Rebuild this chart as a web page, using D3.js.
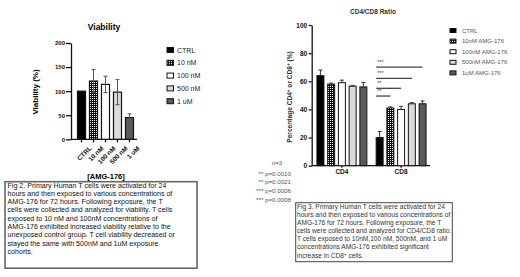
<!DOCTYPE html>
<html lang="en">
  <head>
    <meta charset="UTF-8" />
    <title>AMG-176 T cell figures</title>
    <script src="https://cdn.jsdelivr.net/npm/d3@7"></script>
    <style>
      body { margin: 0; background: #fff; }
      svg { display: block; font-family: "Liberation Sans", Arial, sans-serif; }
      .axis path, .axis line { stroke: #111; stroke-width: 1.3px; }
      .axis text { font-weight: bold; fill: #111; }
    </style>
  </head>
  <body>
    <div id="chart"></div>
    <script>
    // ---- Fig 2: viability ----
    var conditions = ["CTRL", "10 nM", "100 nM", "500 nM", "1 uM"];
    var viabilityMean = [100, 121, 114, 98, 45];
    var viabilityErr = [0, 24, 17, 26, 8];
    var viabilityTicks = [0, 50, 100, 150, 200];

    // ---- Fig 3: CD4/CD8 ratio ----
    var groups = ["CD4", "CD8"];
    var ratioLabels = ["CTRL", "10nM AMG-176", "100nM AMG-176", "500nM AMG-176", "1uM AMG-176"];
    var cd4Mean = [64, 58, 59, 56.5, 56];
    var cd4Err = [4, 0.7, 1.8, 0.6, 3.2];
    var cd8Mean = [20, 41, 40, 44, 44];
    var cd8Err = [4.3, 0.8, 2.2, 0.8, 2];
    var ratioTicks = [0, 20, 40, 60, 80, 100];

    // significance brackets (CD8 group, CTRL vs target)
    var sigTarget = [4, 3, 2, 1];
    var sigLevel = [70, 62, 55, 49.5];
    var sigStars = ["***", "***", "**", "**"];
    var pNotes = ["n=3", "** p=0.0010", "** p=0.0021", "*** p=0.0006", "*** p=0.0008"];

    var caption2 = [
      "Fig 2. Primary Human T cells were activated for 24",
      "hours and then exposed to various concentrations of",
      "AMG-176 for 72 hours. Following exposure, the T",
      "cells were collected and analyzed for viability. T cells",
      "exposed to 10 nM and 100nM concentrations of",
      "AMG-176 exhibited increased viability relative to the",
      "unexposed control group. T cell viability decreased or",
      "stayed the same with 500nM and 1uM exposure",
      "cohorts."
    ];
    var caption3 = [
      "Fig 3. Primary Human T cells were activated for 24",
      "hours and then exposed to various concentrations of",
      "AMG-176 for 72 hours. Following exposure, the T",
      "cells were collected and analyzed for CD4/CD8 ratio.",
      "T cells exposed to 10nM,100 nM, 500nM, and 1 uM",
      "concentrations AMG-176 exhibited significant",
      "increase in CD8+ cells."
    ];

    var w = 520, h = 277;
    var svg = d3.select("#chart").append("svg")
      .attr("width", w)
      .attr("height", h);

    svg.append("rect").attr("width", w).attr("height", h).attr("fill", "#fff");

    var defs = svg.append("defs");
    var pat = defs.append("pattern")
      .attr("id", "chk")
      .attr("width", 2).attr("height", 2)
      .attr("patternUnits", "userSpaceOnUse");
    pat.append("rect").attr("width", 2).attr("height", 2).attr("fill", "#111");
    pat.append("rect").attr("width", 1).attr("height", 1).attr("fill", "#fff");

    var fills = ["#000", "url(#chk)", "#fff", "#dadada", "#5a5a5a"];

    // ================= left chart =================
    var x1 = d3.scaleBand().domain(conditions).range([71.5, 139.5]).paddingInner(0.33).paddingOuter(0.5);
    var y1 = d3.scaleLinear().domain([0, 200]).range([139.3, 43]);

    svg.append("text")
      .attr("x", 104).attr("y", 30)
      .attr("text-anchor", "middle")
      .attr("font-size", "8.5px").attr("font-weight", "bold")
      .text("Viability");

    var ga = svg.append("g").attr("class", "axis")
      .attr("transform", "translate(71,0)")
      .call(d3.axisLeft(y1).tickValues(viabilityTicks).tickSize(5).tickSizeOuter(0).tickPadding(1));
    ga.selectAll("text").attr("font-size", "6px");

    var gb = svg.append("g").attr("class", "axis")
      .attr("transform", "translate(0,139.3)")
      .call(d3.axisBottom(x1).tickSize(3).tickSizeOuter(0));
    gb.select(".domain").attr("d", "M71,0H137");
    gb.selectAll("text")
      .attr("font-size", "6.5px")
      .attr("text-anchor", "end")
      .attr("transform", "translate(3,2) rotate(-45)");

    svg.append("text")
      .attr("transform", "translate(38,92) rotate(-90)")
      .attr("text-anchor", "middle")
      .attr("font-size", "8px").attr("font-weight", "bold")
      .text("Viability (%)");

    svg.append("text")
      .attr("x", 106).attr("y", 179)
      .attr("text-anchor", "middle")
      .attr("font-size", "7.5px").attr("font-weight", "bold")
      .text("[AMG-176]");

    svg.selectAll(".vbar")
      .data(conditions)
      .enter()
      .append("rect")
      .attr("class", "vbar")
      .attr("x", function(d) { return x1(d); })
      .attr("y", function(d, i) { return y1(viabilityMean[i]); })
      .attr("width", x1.bandwidth())
      .attr("height", function(d, i) { return y1(0) - y1(viabilityMean[i]); })
      .attr("fill", function(d, i) { return fills[i]; })
      .attr("stroke", "#111")
      .attr("stroke-width", 1.2);

    conditions.forEach(function(c, i) {
      if (!viabilityErr[i]) return;
      var cx = x1(c) + x1.bandwidth() / 2;
      var top = y1(viabilityMean[i] + viabilityErr[i]);
      var bot = y1(viabilityMean[i] - viabilityErr[i]);
      svg.append("line").attr("x1", cx).attr("x2", cx).attr("y1", top).attr("y2", bot)
        .attr("stroke", "#555").attr("stroke-width", 1);
      svg.append("line").attr("x1", cx - 2).attr("x2", cx + 2).attr("y1", top).attr("y2", top)
        .attr("stroke", "#555").attr("stroke-width", 1);
      svg.append("line").attr("x1", cx - 2).attr("x2", cx + 2).attr("y1", bot).attr("y2", bot)
        .attr("stroke", "#555").attr("stroke-width", 1);
    });

    // legend left
    var lg1 = svg.selectAll(".lg1")
      .data(conditions)
      .enter()
      .append("g")
      .attr("transform", function(d, i) { return "translate(167," + (50 + i * 12.8) + ")"; });
    lg1.append("rect")
      .attr("x", 0).attr("y", -2.5).attr("width", 6.5).attr("height", 5)
      .attr("fill", function(d, i) { return fills[i]; })
      .attr("stroke", "#111").attr("stroke-width", 1);
    lg1.append("text")
      .attr("x", 10).attr("y", 2.5)
      .attr("font-size", "7px").attr("fill", "#222")
      .text(function(d) { return d; });

    // caption box left
    svg.append("rect")
      .attr("x", 5).attr("y", 181.7).attr("width", 192).attr("height", 86.5)
      .attr("fill", "none").attr("stroke", "#666").attr("stroke-width", 1.6);
    svg.selectAll(".cap2")
      .data(caption2)
      .enter()
      .append("text")
      .attr("x", 7.5)
      .attr("y", function(d, i) { return 187.5 + i * 8.33; })
      .attr("font-size", "7.1px").attr("fill", "#111")
      .text(function(d) { return d; });

    // ================= right chart =================
    var x2 = d3.scaleBand().domain(groups).range([312, 431]).paddingInner(0.03).paddingOuter(0.02);
    var xs = d3.scaleBand().domain(ratioLabels).range([0, x2.bandwidth()]).paddingInner(0.35).paddingOuter(0.35);
    var y2 = d3.scaleLinear().domain([0, 100]).range([165.7, 25]);

    svg.append("text")
      .attr("x", 373).attr("y", 14)
      .attr("text-anchor", "middle")
      .attr("font-size", "6.5px").attr("font-weight", "bold").attr("fill", "#333")
      .text("CD4/CD8 Ratio");

    var gc = svg.append("g").attr("class", "axis")
      .attr("transform", "translate(311.7,0)")
      .call(d3.axisLeft(y2).tickValues(ratioTicks).tickSize(3).tickSizeOuter(0).tickPadding(1.5));
    gc.selectAll("text").attr("font-size", "6.5px").attr("fill", "#333");

    var gd = svg.append("g").attr("class", "axis")
      .attr("transform", "translate(0,165.7)")
      .call(d3.axisBottom(x2).tickSize(2).tickSizeOuter(0).tickPadding(2));
    gd.select(".domain").attr("d", "M311.7,0H430");
    gd.selectAll("text").attr("font-size", "6.5px").attr("fill", "#333");

    var ylab = svg.append("text")
      .attr("transform", "translate(291.5,97) rotate(-90)")
      .attr("text-anchor", "middle")
      .attr("font-size", "6.6px").attr("font-weight", "bold").attr("fill", "#333");
    ylab.append("tspan").text("Percentage CD4");
    ylab.append("tspan").attr("baseline-shift", "super").attr("font-size", "4.5px").text("+");
    ylab.append("tspan").text(" or CD8");
    ylab.append("tspan").attr("baseline-shift", "super").attr("font-size", "4.5px").text("+");
    ylab.append("tspan").text(" (%)");

    var series = { CD4: [cd4Mean, cd4Err], CD8: [cd8Mean, cd8Err] };

    groups.forEach(function(g) {
      var gm = series[g][0], ge = series[g][1];
      svg.selectAll(".b" + g)
        .data(ratioLabels)
        .enter()
        .append("rect")
        .attr("x", function(d) { return x2(g) + xs(d); })
        .attr("y", function(d, i) { return y2(gm[i]); })
        .attr("width", xs.bandwidth())
        .attr("height", function(d, i) { return y2(0) - y2(gm[i]); })
        .attr("fill", function(d, i) { return fills[i]; })
        .attr("stroke", "#111")
        .attr("stroke-width", 1);
      ratioLabels.forEach(function(d, i) {
        var cx = x2(g) + xs(d) + xs.bandwidth() / 2;
        var top = y2(gm[i] + ge[i]);
        svg.append("line").attr("x1", cx).attr("x2", cx).attr("y1", top).attr("y2", y2(gm[i]))
          .attr("stroke", "#333").attr("stroke-width", 1);
        svg.append("line").attr("x1", cx - 2).attr("x2", cx + 2).attr("y1", top).attr("y2", top)
          .attr("stroke", "#333").attr("stroke-width", 1);
      });
    });

    // significance lines
    var sx0 = x2("CD8") + xs("CTRL");
    sigTarget.forEach(function(t, i) {
      var ex = x2("CD8") + xs(ratioLabels[t]) + xs.bandwidth() / 2;
      var yy = y2(sigLevel[i]);
      svg.append("line")
        .attr("x1", sx0).attr("x2", ex).attr("y1", yy).attr("y2", yy)
        .attr("stroke", "#444").attr("stroke-width", 1.3);
      svg.append("text")
        .attr("x", sx0 + 1).attr("y", yy - 3)
        .attr("font-size", "5.5px").attr("fill", "#444")
        .text(sigStars[i]);
    });

    // legend right
    var lg2 = svg.selectAll(".lg2")
      .data(ratioLabels)
      .enter()
      .append("g")
      .attr("transform", function(d, i) { return "translate(450," + (30.5 + i * 10.6) + ")"; });
    lg2.append("rect")
      .attr("x", 0).attr("y", -2).attr("width", 6).attr("height", 4)
      .attr("fill", function(d, i) { return fills[i]; })
      .attr("stroke", "#111").attr("stroke-width", 1);
    lg2.append("text")
      .attr("x", 12).attr("y", 2)
      .attr("font-size", "6px").attr("fill", "#555")
      .text(function(d) { return d; });

    // p-value notes
    svg.selectAll(".pn")
      .data(pNotes)
      .enter()
      .append("text")
      .attr("x", function(d, i) { return i === 0 ? 277 : 291; })
      .attr("y", function(d, i) { return i === 0 ? 165 : 175.5 + (i - 1) * 8.9; })
      .attr("text-anchor", function(d, i) { return i === 0 ? "middle" : "end"; })
      .attr("font-size", "6.2px").attr("fill", "#555")
      .text(function(d) { return d; });

    // caption box right
    svg.append("rect")
      .attr("x", 295.7).attr("y", 202.7).attr("width", 156.6).attr("height", 59)
      .attr("fill", "none").attr("stroke", "#444").attr("stroke-width", 1);
    var c3 = svg.selectAll(".cap3")
      .data(caption3)
      .enter()
      .append("text")
      .attr("x", 297)
      .attr("y", function(d, i) { return 209.3 + i * 7.85 + (i === 6 ? 1.5 : 0); })
      .attr("font-size", "6.6px").attr("fill", "#333");
    c3.each(function(d) {
      var t = d3.select(this);
      if (d.indexOf("CD8+") >= 0) {
        t.append("tspan").text("increase in CD8");
        t.append("tspan").attr("baseline-shift", "super").attr("font-size", "4.5px").text("+");
        t.append("tspan").text(" cells.");
      } else {
        t.text(d);
      }
    });
    </script>
  </body>
</html>
